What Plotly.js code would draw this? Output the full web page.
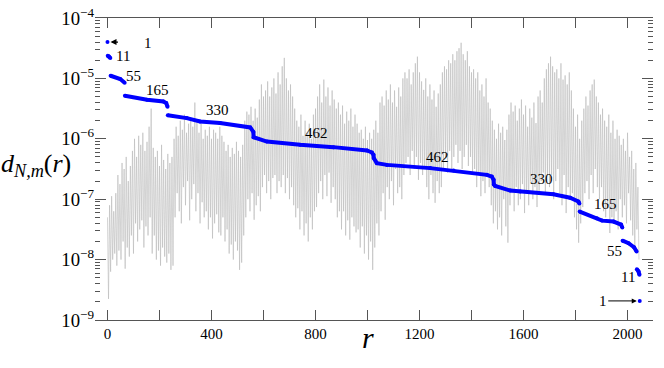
<!DOCTYPE html>
<html>
<head>
<meta charset="utf-8">
<script src="https://cdn.plot.ly/plotly-3.0.1.min.js"></script>
<style>
  body { margin: 0; background: #fff; }
  #plotDiv { width: 664px; height: 368px; }
</style>
</head>
<body>
<div id="plotDiv"></div>
<script>
// sorted values (blue), null = break between groups
let blueR = [0, null,
  1, 6, 11, null,
  12, 49, 66, null,
  67, 152, 215, 226, 231, null,
  232, 305, 356, 433, 549, 561,
  562, 613, 741, 869, 998, 1017, 1023,
  1024, 1036, 1075, 1241, 1331, 1459, 1478, 1485,
  1486, 1491, 1549, 1587, 1715, 1779, 1811, 1815, null,
  1816, 1882, 1902, 1946, 1975, 1980, null,
  1981, 2004, 2025, 2035, null,
  2036, 2042, 2046, null,
  2047];
let blueD = [4.0e-5, null,
  2.37e-5, 2.31e-5, 2.17e-5, null,
  1.106e-5, 9.75e-6, 8.47e-6, null,
  5.15e-6, 4.43e-6, 4.15e-6, 3.9e-6, 3.4e-6, null,
  2.45e-6, 2.2e-6, 1.93e-6, 1.82e-6, 1.54e-6, 1.3e-6,
  1.06e-6, 9.0e-7, 7.95e-7, 7.28e-7, 6.4e-7, 5.93e-7, 5.43e-7,
  4.79e-7, 3.95e-7, 3.7e-7, 3.27e-7, 2.98e-7, 2.53e-7, 2.37e-7, 2.09e-7,
  1.75e-7, 1.66e-7, 1.39e-7, 1.34e-7, 1.21e-7, 1.06e-7, 9.14e-8, 8.5e-8, null,
  6.24e-8, 4.84e-8, 4.42e-8, 4.26e-8, 3.8e-8, 3.4e-8, null,
  2.06e-8, 1.87e-8, 1.6e-8, 1.36e-8, null,
  6.9e-9, 6.4e-9, 5.6e-9, null,
  2.07e-9];

// unsorted values (gray), log10 of d, read every 4 steps of r
let grayStep = 4;
let grayLog = [
  -7.3, -8.65, -7.1, -8.2, -6.95, -8.0, -7.2, -7.9,
  -6.9, -8.1, -6.6, -7.85, -6.75, -8.0, -6.4, -7.7,
  -6.5, -8.15, -6.3, -7.8, -6.7, -7.95, -6.45, -7.6,
  -6.2, -7.9, -6.0, -7.4, -6.3, -7.7, -5.95, -7.5,
  -6.1, -7.35, -5.9, -7.8, -6.2, -7.45, -6.05, -7.6,
  -5.8, -7.3, -5.5, -7.9, -6.15, -7.6, -6.3, -8.0,
  -6.2, -7.85, -6.45, -8.1, -6.1, -7.8, -6.35, -7.95,
  -6.5, -8.05, -6.25, -7.9, -6.4, -8.17, -6.3, -8.1,
  -6.0, -7.3, -5.8, -6.9, -5.95, -7.2, -5.7, -7.4,
  -5.85, -6.8, -5.6, -7.1, -5.9, -6.7, -5.75, -7.35,
  -5.65, -7.0, -5.8, -6.75, -5.4, -7.2, -5.7, -6.9,
  -5.9, -7.4, -5.75, -7.05, -6.0, -7.3, -5.85, -7.2,
  -5.95, -7.5, -5.8, -7.3, -6.0, -7.65, -5.85, -7.4,
  -5.9, -7.25, -6.0, -7.55, -5.8, -7.6, -5.95, -7.3,
  -6.05, -7.7, -6.2, -7.5, -6.1, -7.9, -6.3, -7.75,
  -6.15, -8.0, -6.25, -7.7, -6.05, -7.85, -6.2, -8.17,
  -6.3, -8.05, -6.1, -7.6, -5.7, -7.3, -5.55, -7.0,
  -5.6, -7.2, -5.47, -6.9, -5.7, -7.34, -5.5, -7.1,
  -5.65, -6.95, -5.35, -7.2, -5.1, -6.8, -5.3, -6.6,
  -5.2, -6.9, -5.05, -6.7, -5.3, -7.0, -5.15, -6.65,
  -5.0, -6.6, -5.25, -6.9, -4.9, -6.7, -5.1, -6.8,
  -4.8, -6.6, -4.66, -6.9, -5.0, -6.65, -5.2, -7.0,
  -5.1, -6.8, -5.3, -7.1, -5.5, -7.3, -5.7, -7.15,
  -5.8, -7.5, -5.6, -7.2, -5.95, -7.6, -5.7, -7.4,
  -5.9, -7.7, -5.75, -7.3, -6.0, -7.5, -5.6, -7.2,
  -5.5, -7.13, -5.3, -6.9, -5.1, -6.7, -5.4, -7.0,
  -5.02, -6.6, -5.3, -6.95, -5.15, -6.56, -5.45, -7.06,
  -5.2, -6.8, -5.35, -7.0, -5.5, -7.3, -5.4, -7.2,
  -5.6, -7.5, -5.45, -7.2, -5.75, -7.6, -5.55, -7.35,
  -5.7, -7.67, -5.5, -7.3, -5.8, -7.45, -5.6, -7.55,
  -5.75, -7.5, -5.9, -7.8, -5.85, -7.45, -6.0, -7.9,
  -5.8, -7.6, -6.02, -8.0, -5.9, -7.7, -6.0, -8.17,
  -5.85, -7.8, -5.7, -7.4, -5.9, -7.6, -5.4, -7.2,
  -5.3, -6.9, -5.45, -7.34, -5.2, -6.8, -5.35, -7.0,
  -5.1, -6.7, -5.4, -7.1, -5.2, -6.5, -5.47, -6.9,
  -5.15, -6.8, -5.3, -7.0, -5.0, -6.6, -4.9, -6.4,
  -5.0, -6.3, -4.85, -6.6, -5.1, -6.2, -4.9, -6.5,
  -4.75, -6.3, -4.64, -6.68, -4.9, -6.4, -5.05, -6.6,
  -5.19, -6.5, -5.0, -6.8, -5.3, -7.0, -5.1, -6.6,
  -5.35, -6.9, -5.2, -7.06, -5.47, -6.7, -5.25, -6.9,
  -5.1, -6.8, -4.9, -6.5, -4.8, -6.3, -4.85, -6.56,
  -4.7, -6.2, -4.75, -6.5, -4.6, -6.3, -4.7, -6.1,
  -4.55, -6.4, -4.5, -6.2, -4.41, -6.5, -4.6, -6.3,
  -4.7, -6.1, -4.55, -6.45, -4.8, -6.3, -4.9, -6.56,
  -4.85, -6.5, -5.0, -6.8, -4.9, -6.6, -5.2, -6.95,
  -5.1, -6.7, -5.3, -6.9, -5.0, -6.6, -5.4, -6.8,
  -5.5, -7.1, -5.7, -7.4, -5.85, -7.2, -6.0, -7.5,
  -5.75, -7.3, -5.9, -7.6, -5.8, -7.0, -6.02, -7.45,
  -5.85, -7.72, -5.6, -7.1, -5.4, -6.9, -5.55, -7.2,
  -5.45, -6.8, -5.7, -7.1, -5.5, -7.0, -5.35, -6.75,
  -5.6, -7.23, -5.45, -6.9, -5.8, -7.1, -5.5, -6.7,
  -5.65, -7.0, -5.4, -6.8, -5.74, -7.13, -5.3, -6.9,
  -5.2, -6.7, -5.4, -6.56, -5.0, -6.9, -4.85, -6.6,
  -4.75, -6.8, -4.64, -6.6, -4.8, -7.0, -4.9, -6.7,
  -4.85, -6.5, -5.0, -6.9, -4.75, -7.1, -5.02, -6.6,
  -4.95, -7.23, -5.1, -6.8, -4.9, -7.0, -5.2, -6.9,
  -5.5, -7.3, -5.8, -7.5, -5.6, -7.72, -6.0, -7.4,
  -5.7, -7.13, -5.5, -6.9, -5.3, -6.7, -5.45, -7.0,
  -5.2, -6.6, -5.1, -6.9, -5.02, -6.5, -5.3, -6.8,
  -5.4, -7.0, -5.6, -6.8, -5.5, -7.2, -5.7, -7.3,
  -5.8, -7.1, -5.6, -7.56, -5.9, -7.3, -5.7, -7.4,
  -6.0, -7.2, -5.85, -7.5, -5.95, -7.0, -6.1, -7.3,
  -6.0, -7.1, -6.2, -7.4, -5.9, -6.9, -6.3, -7.35,
  -6.2, -7.6, -6.5, -7.8, -6.4, -7.5, -6.8, -8.0
];

// group sizes shown as labels: [text, r, log10 d]
let groupLabels = [
  ["1", 157, -4.41], ["11", 61, -4.625], ["55", 101, -4.956], ["165", 193, -5.188],
  ["330", 422, -5.531], ["462", 803, -5.896], ["462", 1268, -6.294], ["330", 1668, -6.668],
  ["165", 1914, -7.078], ["55", 1949, -7.851], ["11", 2003, -8.282]
];

let xTicks = [0, 400, 800, 1200, 1600, 2000];
let xTickText = ["0", "400", "800", "1200", "1600", "2000"];
let xMinorTicks = [200, 600, 1000, 1400, 1800];

let serif = '"Liberation Serif", "Times New Roman", serif';

let grayR = [];
let grayD = [];
for (let i = 0; i < grayLog.length; i++) {
  grayR.push(i * grayStep);
  grayD.push(Math.pow(10, grayLog[i]));
}

let data = [
  {
    x: grayR, y: grayD,
    type: "scatter", mode: "lines",
    line: {color: "rgb(185,185,185)", width: 0.6},
    hoverinfo: "skip"
  },
  {
    x: blueR, y: blueD,
    type: "scatter", mode: "lines+markers",
    line: {color: "#0000ff", width: 4},
    marker: {color: "#0000ff", size: 4},
    connectgaps: false
  }
];

let annotations = [];
for (let i = 0; i < groupLabels.length; i++) {
  annotations.push({
    x: groupLabels[i][1], y: groupLabels[i][2], text: groupLabels[i][0],
    showarrow: false, font: {family: serif, size: 15, color: "#000"}
  });
}
// little arrow at the top single point
annotations.push({
  x: 0, y: Math.log10(blueD[0]), text: "", showarrow: true,
  ax: 12, ay: 0, arrowhead: 2, arrowsize: 1, arrowwidth: 1.2,
  arrowcolor: "#000", standoff: 3
});
// label + arrow at the bottom single point
annotations.push({
  x: 2047, y: Math.log10(blueD[blueD.length - 1]), text: "1", showarrow: true,
  ax: -37, ay: 0, arrowhead: 2, arrowsize: 1, arrowwidth: 1,
  arrowcolor: "#000", standoff: 3,
  font: {family: serif, size: 15, color: "#000"}
});
// axis titles
annotations.push({
  xref: "paper", yref: "paper", x: -0.106, y: 0.513,
  xanchor: "center", yanchor: "middle",
  text: "<i>d</i><sub><i>N,m</i></sub>(<i>r</i>)", showarrow: false,
  font: {family: serif, size: 26, color: "#000"}
});
annotations.push({
  xref: "paper", yref: "paper", x: 0.489, y: -0.059,
  xanchor: "center", yanchor: "middle",
  text: "<i>r</i>", showarrow: false,
  font: {family: serif, size: 30, color: "#000"}
});

let layout = {
  width: 664,
  height: 368,
  margin: {l: 95, r: 11, t: 18, b: 48, pad: 0},
  paper_bgcolor: "#fff",
  plot_bgcolor: "#fff",
  showlegend: false,
  font: {family: serif, size: 15, color: "#000"},
  xaxis: {
    range: [-48, 2098],
    tickvals: xTicks, ticktext: xTickText,
    ticks: "inside", ticklen: 10, tickcolor: "#555", tickwidth: 1,
    minor: {tickvals: xMinorTicks, ticks: "inside", ticklen: 10, tickcolor: "#555", showgrid: false},
    showline: true, linecolor: "#555", linewidth: 1, mirror: "ticks",
    showgrid: false, zeroline: false,
    tickfont: {family: serif, size: 15, color: "#000"}
  },
  yaxis: {
    type: "log",
    range: [-9, -4],
    dtick: 1,
    exponentformat: "power",
    ticks: "inside", ticklen: 11, tickcolor: "#555", tickwidth: 1,
    minor: {ticks: "inside", ticklen: 5, tickcolor: "#555", dtick: "D1", showgrid: false},
    showline: false, mirror: "ticks",
    showgrid: false, zeroline: false,
    tickfont: {family: serif, size: 15, color: "#000"}
  },
  annotations: annotations
};

Plotly.newPlot("plotDiv", data, layout, {staticPlot: true});
</script>
</body>
</html>
